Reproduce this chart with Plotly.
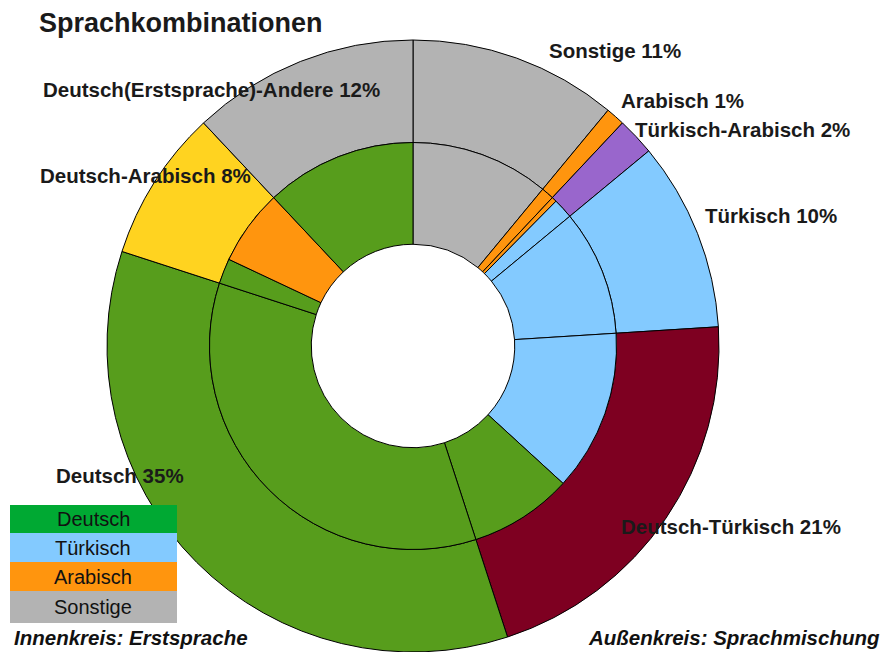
import plotly.graph_objects as go

# Outer ring: Sprachmischung (language mix)
outer_labels = ["Sonstige", "Arabisch", "Türkisch-Arabisch", "Türkisch",
                "Deutsch-Türkisch", "Deutsch", "Deutsch-Arabisch",
                "Deutsch(Erstsprache)-Andere"]
outer_values = [11, 1, 2, 10, 21, 35, 8, 12]
outer_colors = ["#B3B3B3", "#FF950E", "#9966CC", "#83CAFF",
                "#7E0021", "#579D1C", "#FFD320", "#B3B3B3"]

# Inner ring: Erstsprache (first language) split within each outer segment
inner_parent = ["Sonstige", "Arabisch", "Türkisch-Arabisch", "Türkisch-Arabisch",
                "Türkisch", "Deutsch-Türkisch", "Deutsch-Türkisch", "Deutsch",
                "Deutsch-Arabisch", "Deutsch-Arabisch", "Deutsch(Erstsprache)-Andere"]
inner_lang = ["Sonstige", "Arabisch", "Arabisch", "Türkisch",
              "Türkisch", "Türkisch", "Deutsch", "Deutsch",
              "Deutsch", "Arabisch", "Deutsch"]
inner_values = [11, 1, 0.4, 1.6, 10, 12.8, 8.2, 35, 2, 6, 12]

lang_colors = {"Deutsch": "#579D1C", "Türkisch": "#83CAFF",
               "Arabisch": "#FF950E", "Sonstige": "#B3B3B3"}

# Legend (Erstsprache)
legend_names = ["Deutsch", "Türkisch", "Arabisch", "Sonstige"]
legend_colors = ["#00A933", "#83CAFF", "#FF950E", "#B3B3B3"]

W, H = 884, 652
FONT = "Liberation Sans, Arial, sans-serif"

def px(x):
    return x / W

def py(y):
    return 1 - y / H

cx, cy, r_out = 413, 346, 306
r_in = r_out * 0.665

fig = go.Figure()
fig.add_trace(go.Pie(
    labels=outer_labels, values=outer_values, sort=False,
    direction="clockwise", rotation=0, hole=0.665,
    marker=dict(colors=outer_colors, line=dict(color="black", width=1)),
    textinfo="none", showlegend=False,
    domain=dict(x=[px(cx - r_out), px(cx + r_out)],
                y=[py(cy + r_out), py(cy - r_out)]),
))
fig.add_trace(go.Pie(
    labels=[f"{p} / {l}" for p, l in zip(inner_parent, inner_lang)],
    values=inner_values, sort=False,
    direction="clockwise", rotation=0, hole=0.5,
    marker=dict(colors=[lang_colors[l] for l in inner_lang],
                line=dict(color="black", width=1)),
    textinfo="none", showlegend=False,
    domain=dict(x=[px(cx - r_in), px(cx + r_in)],
                y=[py(cy + r_in), py(cy - r_in)]),
))

annotations = []
# Outer labels
label_pos = {
    "Sonstige": (615, 50),
    "Arabisch": (682, 100),
    "Türkisch-Arabisch": (742, 130),
    "Türkisch": (771, 215),
    "Deutsch-Türkisch": (731, 526),
    "Deutsch": (120, 475),
    "Deutsch-Arabisch": (145, 175),
    "Deutsch(Erstsprache)-Andere": (211, 89),
}
for lab, val in zip(outer_labels, outer_values):
    x, y = label_pos[lab]
    annotations.append(dict(
        text=f"<b>{lab} {val}%</b>", x=px(x), y=py(y), xref="paper", yref="paper",
        xanchor="center", yanchor="middle", showarrow=False,
        font=dict(family=FONT, size=20.5, color="#1a1a1a")))

# Title
annotations.append(dict(
    text="<b>Sprachkombinationen</b>", x=px(37), y=py(23), xref="paper", yref="paper",
    xanchor="left", yanchor="middle", showarrow=False,
    font=dict(family=FONT, size=27, color="#1a1a1a")))

# Legend boxes
box_tops = [505, 533, 562, 591]
box_bottoms = [533, 562, 591, 623]
shapes = []
for name, col, t, b in zip(legend_names, legend_colors, box_tops, box_bottoms):
    shapes.append(dict(type="rect", xref="paper", yref="paper",
                       x0=px(10), x1=px(177), y0=py(b), y1=py(t),
                       fillcolor=col, line=dict(width=0), layer="above"))
    annotations.append(dict(
        text=name, x=px(93), y=py((t + b) / 2), xref="paper", yref="paper",
        xanchor="center", yanchor="middle", showarrow=False,
        font=dict(family=FONT, size=20, color="#111111")))

# Footer notes
annotations.append(dict(
    text="<b><i>Innenkreis: Erstsprache</i></b>", x=px(12), y=py(637),
    xref="paper", yref="paper", xanchor="left", yanchor="middle", showarrow=False,
    font=dict(family=FONT, size=20.5, color="#111111")))
annotations.append(dict(
    text="<b><i>Außenkreis: Sprachmischung</i></b>", x=px(882), y=py(637),
    xref="paper", yref="paper", xanchor="right", yanchor="middle", showarrow=False,
    font=dict(family=FONT, size=20.5, color="#111111")))

fig.update_layout(
    width=W, height=H, margin=dict(l=0, r=0, t=0, b=0),
    paper_bgcolor="white", plot_bgcolor="white",
    annotations=annotations, shapes=shapes, showlegend=False,
    font=dict(family=FONT),
)

fig.write_html("out.html", config={"displayModeBar": False},
               post_script="document.body.style.margin='0';document.body.style.overflow='hidden';")
